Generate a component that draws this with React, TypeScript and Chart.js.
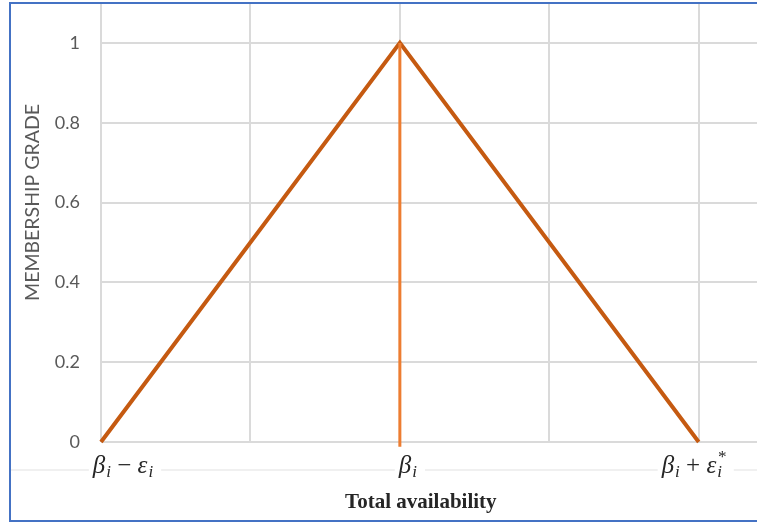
import React, { useEffect, useRef } from "react";
import { Chart, registerables } from "chart.js";

Chart.register(...registerables);

// ---- data ----
const triangleX = [0, 2, 4];
const triangleY = [0, 1, 0];
const peakLineX = [2, 2];
const peakLineY = [1, -0.012];
const yTickValues = [0, 0.2, 0.4, 0.6, 0.8, 1];
const xGridValues = [0, 1, 2, 3, 4];
const xTickValues = [0, 2, 4];
type Part = { t: string; sub?: string; sup?: string; upright?: boolean };
const xTickLabels: Part[][] = [
  [{ t: "β", sub: "i" }, { t: " − ", upright: true }, { t: "ε", sub: "i" }],
  [{ t: "β", sub: "i" }],
  [{ t: "β", sub: "i" }, { t: " + ", upright: true }, { t: "ε", sub: "i", sup: "*" }],
];
const yAxisTitle = "MEMBERSHIP GRADE";
const xAxisTitle = "Total availability";

// ---- styles ----
const labelDx = [22, 8, -5];
const MAIN_FONT = "italic 25px 'Liberation Serif'";
const UP_FONT = "25px 'Liberation Serif'";
const SUB_FONT = "italic 17px 'Liberation Serif'";

const customText = {
  id: "customText",
  afterDraw(chart: any) {
    const ctx = chart.ctx as CanvasRenderingContext2D;
    const xs = chart.scales.x;
    const area = chart.chartArea;
    ctx.save();
    // faint separator line
    ctx.strokeStyle = "#F0F0F0";
    ctx.lineWidth = 2;
    ctx.beginPath();
    ctx.moveTo(10, area.bottom + 28);
    ctx.lineTo(chart.width, area.bottom + 28);
    ctx.stroke();

    const baseY = area.bottom + 31;
    xTickValues.forEach((v, i) => {
      const parts = xTickLabels[i];
      const widths = parts.map((p) => {
        ctx.font = p.upright ? UP_FONT : MAIN_FONT;
        const w = ctx.measureText(p.t).width;
        ctx.font = SUB_FONT;
        const sw = Math.max(
          p.sub ? ctx.measureText(p.sub).width : 0,
          p.sup ? ctx.measureText(p.sup).width : 0
        );
        return { w, sw };
      });
      const total = widths.reduce((a, b) => a + b.w + b.sw + (b.sw ? 1 : 0), 0);
      let x = xs.getPixelForValue(v) + labelDx[i] - total / 2;
      ctx.fillStyle = "#FFFFFF";
      ctx.fillRect(x - 4, baseY - 22, total + 12, 32);
      ctx.fillStyle = "#262626";
      ctx.textBaseline = "alphabetic";
      ctx.textAlign = "left";
      parts.forEach((p, k) => {
        ctx.font = p.upright ? UP_FONT : MAIN_FONT;
        ctx.fillText(p.t, x, baseY);
        x += widths[k].w;
        if (p.sub || p.sup) {
          ctx.font = SUB_FONT;
          if (p.sub) ctx.fillText(p.sub, x + 1, baseY + 4);
          if (p.sup) ctx.fillText(p.sup, x + 1, baseY - 11);
          x += widths[k].sw + 1;
        }
      });
    });

    // x axis title
    ctx.font = "bold 21px 'Liberation Serif'";
    ctx.fillStyle = "#262626";
    ctx.textAlign = "center";
    ctx.textBaseline = "middle";
    ctx.fillText(xAxisTitle, xs.getPixelForValue(2) + 21, area.bottom + 61);

    // y axis title
    ctx.translate(33, (area.top + area.bottom) / 2 - 20);
    ctx.rotate(-Math.PI / 2);
    ctx.font = "19.5px Lato";
    ctx.fillStyle = "#595959";
    ctx.fillText(yAxisTitle, 0, 0);
    ctx.restore();
  },
};

export default function App() {
  const ref = useRef<HTMLCanvasElement | null>(null);
  useEffect(() => {
    if (!ref.current) return;
    const chart = new Chart(ref.current, {
      type: "line",
      data: {
        datasets: [
          {
            data: peakLineX.map((x, i) => ({ x, y: peakLineY[i] })),
            borderColor: "#ED7D31",
            borderWidth: 3,
            pointRadius: 0,
            clip: false as any,
            tension: 0,
          },
          {
            data: triangleX.map((x, i) => ({ x, y: triangleY[i] })),
            borderColor: "#C55A11",
            borderWidth: 4,
            pointRadius: 0,
            clip: false as any,
            tension: 0,
          },
        ],
      },
      options: {
        animation: false,
        responsive: false,
        devicePixelRatio: 1,
        layout: { padding: { top: 3, left: 0, right: 0, bottom: 83 } },
        plugins: { legend: { display: false }, tooltip: { enabled: false } },
        scales: {
          x: {
            type: "linear",
            min: 0,
            max: 4.39,
            afterBuildTicks: (s: any) => {
              s.ticks = xGridValues.map((value) => ({ value }));
            },
            afterFit: (s: any) => {
              s.height = 0;
            },
            ticks: { display: false },
            grid: { color: "#DADADA", lineWidth: 2, drawTicks: false },
            border: { display: false },
          },
          y: {
            type: "linear",
            min: 0,
            max: 1.1,
            afterBuildTicks: (s: any) => {
              s.ticks = yTickValues.map((value) => ({ value }));
            },
            afterFit: (s: any) => {
              s.width = 101;
              s.paddingTop = 0;
              s.paddingBottom = 0;
            },
            ticks: {
              padding: 21,
              color: "#595959",
              font: { family: "Lato", size: 18 },
              callback: (v: any) => String(Number(Number(v).toFixed(1))),
            },
            grid: { color: "#DADADA", lineWidth: 2, drawTicks: false },
            border: { display: false },
          },
        },
      },
      plugins: [customText],
    });
    return () => chart.destroy();
  }, []);

  return (
    <div
      style={{
        position: "fixed",
        left: 0,
        top: 0,
        width: 757,
        height: 525,
        overflow: "hidden",
        background: "#FFFFFF",
      }}
    >
      <canvas ref={ref} width={757} height={525} style={{ display: "block" }} />
      <div
        style={{
          position: "absolute",
          left: 9,
          top: 2,
          width: 770,
          height: 516,
          border: "2px solid #4472C4",
          borderRight: "none",
          pointerEvents: "none",
        }}
      />
    </div>
  );
}
